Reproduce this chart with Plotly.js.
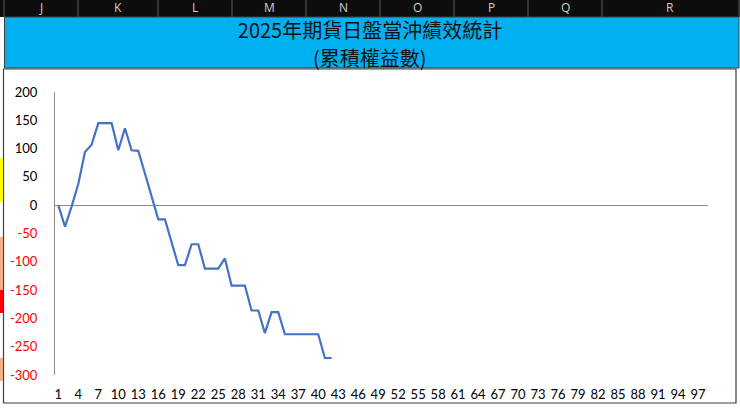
<!DOCTYPE html>
<html>
<head>
<meta charset="utf-8">
<script src="https://cdn.plot.ly/plotly-3.0.1.min.js"></script>
<style>
html,body{margin:0;padding:0;background:#ffffff;}
#chart{width:740px;height:409px;}
</style>
</head>
<body>
<div id="chart"></div>
<script>
// ---- data ----
var titleLine1 = "2025年期貨日盤當沖績效統計";
var titleLine2 = "(累積權益數)";
var equity = [0, -38, -2, 38, 94, 107, 145, 145, 145, 97, 136, 97, 96, 56, 16, -25, -25, -67, -106, -106,
              -69, -69, -112, -112, -112, -94, -142, -142, -142, -186, -186, -226, -189, -189, -228, -228,
              -228, -228, -228, -228, -270, -270];
var days = equity.map(function(v, i){ return i + 1; });
var xTickVals = [1,4,7,10,13,16,19,22,25,28,31,34,37,40,43,46,49,52,55,58,61,64,67,70,73,76,79,82,85,88,91,94,97];
var yTickVals = [200, 150, 100, 50, 0, -50, -100, -150, -200, -250, -300];
var columnLetters = ["J","K","L","M","N","O","P","Q","R"];

// ---- geometry helpers (pixel -> paper) ----
var W = 740, H = 409;
var mL = 55, mR = 32, mT = 92, mB = 34;
var pw = W - mL - mR, ph = H - mT - mB;
function px(x){ return (x - mL) / pw; }
function py(y){ return (H - mB - y) / ph; }

var yTickText = yTickVals.map(function(v){
  return v < 0 ? '<span style="color:#FF0000">' + v + '</span>' : String(v);
});

var colEdges = [4, 78, 158, 232, 306, 380, 454, 528, 602, 739];

var shapes = [];
// black header row
shapes.push({type:'rect', xref:'paper', yref:'paper', x0:px(0), x1:px(740), y0:py(17), y1:py(0),
  fillcolor:'#0d0d0d', line:{width:0}, layer:'below'});
// column separators
colEdges.forEach(function(e){
  shapes.push({type:'line', xref:'paper', yref:'paper', x0:px(e), x1:px(e), y0:py(17), y1:py(0),
    line:{color:'#5a5a5a', width:1}, layer:'below'});
});
// blue title band
shapes.push({type:'rect', xref:'paper', yref:'paper', x0:px(4.5), x1:px(739), y0:py(68), y1:py(17),
  fillcolor:'#00B0F0', line:{color:'#404040', width:1}, layer:'below'});
// chart border
shapes.push({type:'rect', xref:'paper', yref:'paper', x0:px(3.5), x1:px(736), y0:py(403), y1:py(69),
  fillcolor:'rgba(0,0,0,0)', line:{color:'#404040', width:1.2}, layer:'below'});
// left-edge coloured cells
var strips = [[158,202,'#FFFF00'],[237,290,'#F4B183'],[290,313,'#FF0000'],[358,381,'#F4B183']];
strips.forEach(function(s){
  shapes.push({type:'rect', xref:'paper', yref:'paper', x0:px(0), x1:px(3), y0:py(s[1]), y1:py(s[0]),
    fillcolor:s[2], line:{width:0}, layer:'below'});
});

var colCenters = [41, 118, 195, 269, 343, 417, 491, 565, 670];
var annotations = columnLetters.map(function(c, i){
  return {text:c, xref:'paper', yref:'paper', x:px(colCenters[i]), y:py(8),
    xanchor:'center', yanchor:'middle', showarrow:false, borderpad:0,
    font:{family:'"Open Sans", sans-serif', size:12, color:'#d0d0d0'}};
});
annotations.push({text:titleLine2, xref:'paper', yref:'paper', x:px(370), y:py(57),
  xanchor:'center', yanchor:'middle', showarrow:false, borderpad:0,
  font:{family:'"Noto Sans CJK TC", sans-serif', size:20, color:'#111111'}});

var trace = {
  x: days, y: equity, type:'scatter', mode:'lines',
  line:{color:'#4472C4', width:2.2},
  hoverinfo:'x+y'
};

var layout = {
  width: W, height: H,
  margin:{l:mL, r:mR, t:mT, b:mB, pad:0},
  paper_bgcolor:'rgba(0,0,0,0)', plot_bgcolor:'rgba(0,0,0,0)',
  showlegend:false,
  title:{text:titleLine1, x:370/W, xanchor:'center', y:1 - 31/H, yanchor:'middle',
    font:{family:'"Noto Sans CJK TC", sans-serif', size:20, color:'#111111'}},
  xaxis:{range:[0.5, 98.5], tickmode:'array', tickvals:xTickVals, ticktext:xTickVals.map(String),
    showgrid:false, zeroline:false, showline:false, ticks:'', ticklabelstandoff:10,
    tickfont:{family:'Lato, sans-serif', size:13, color:'#000000'}, fixedrange:true},
  yaxis:{range:[-300, 200], tickmode:'array', tickvals:yTickVals, ticktext:yTickText,
    showgrid:false, zeroline:true, zerolinecolor:'#8c8c8c', zerolinewidth:1,
    showline:true, linecolor:'#8c8c8c', linewidth:1, ticks:'', ticklabelstandoff:14,
    tickfont:{family:'Lato, sans-serif', size:13, color:'#000000'}, fixedrange:true},
  shapes: shapes,
  annotations: annotations
};

Plotly.newPlot('chart', [trace], layout, {displayModeBar:false, staticPlot:true});
</script>
</body>
</html>
